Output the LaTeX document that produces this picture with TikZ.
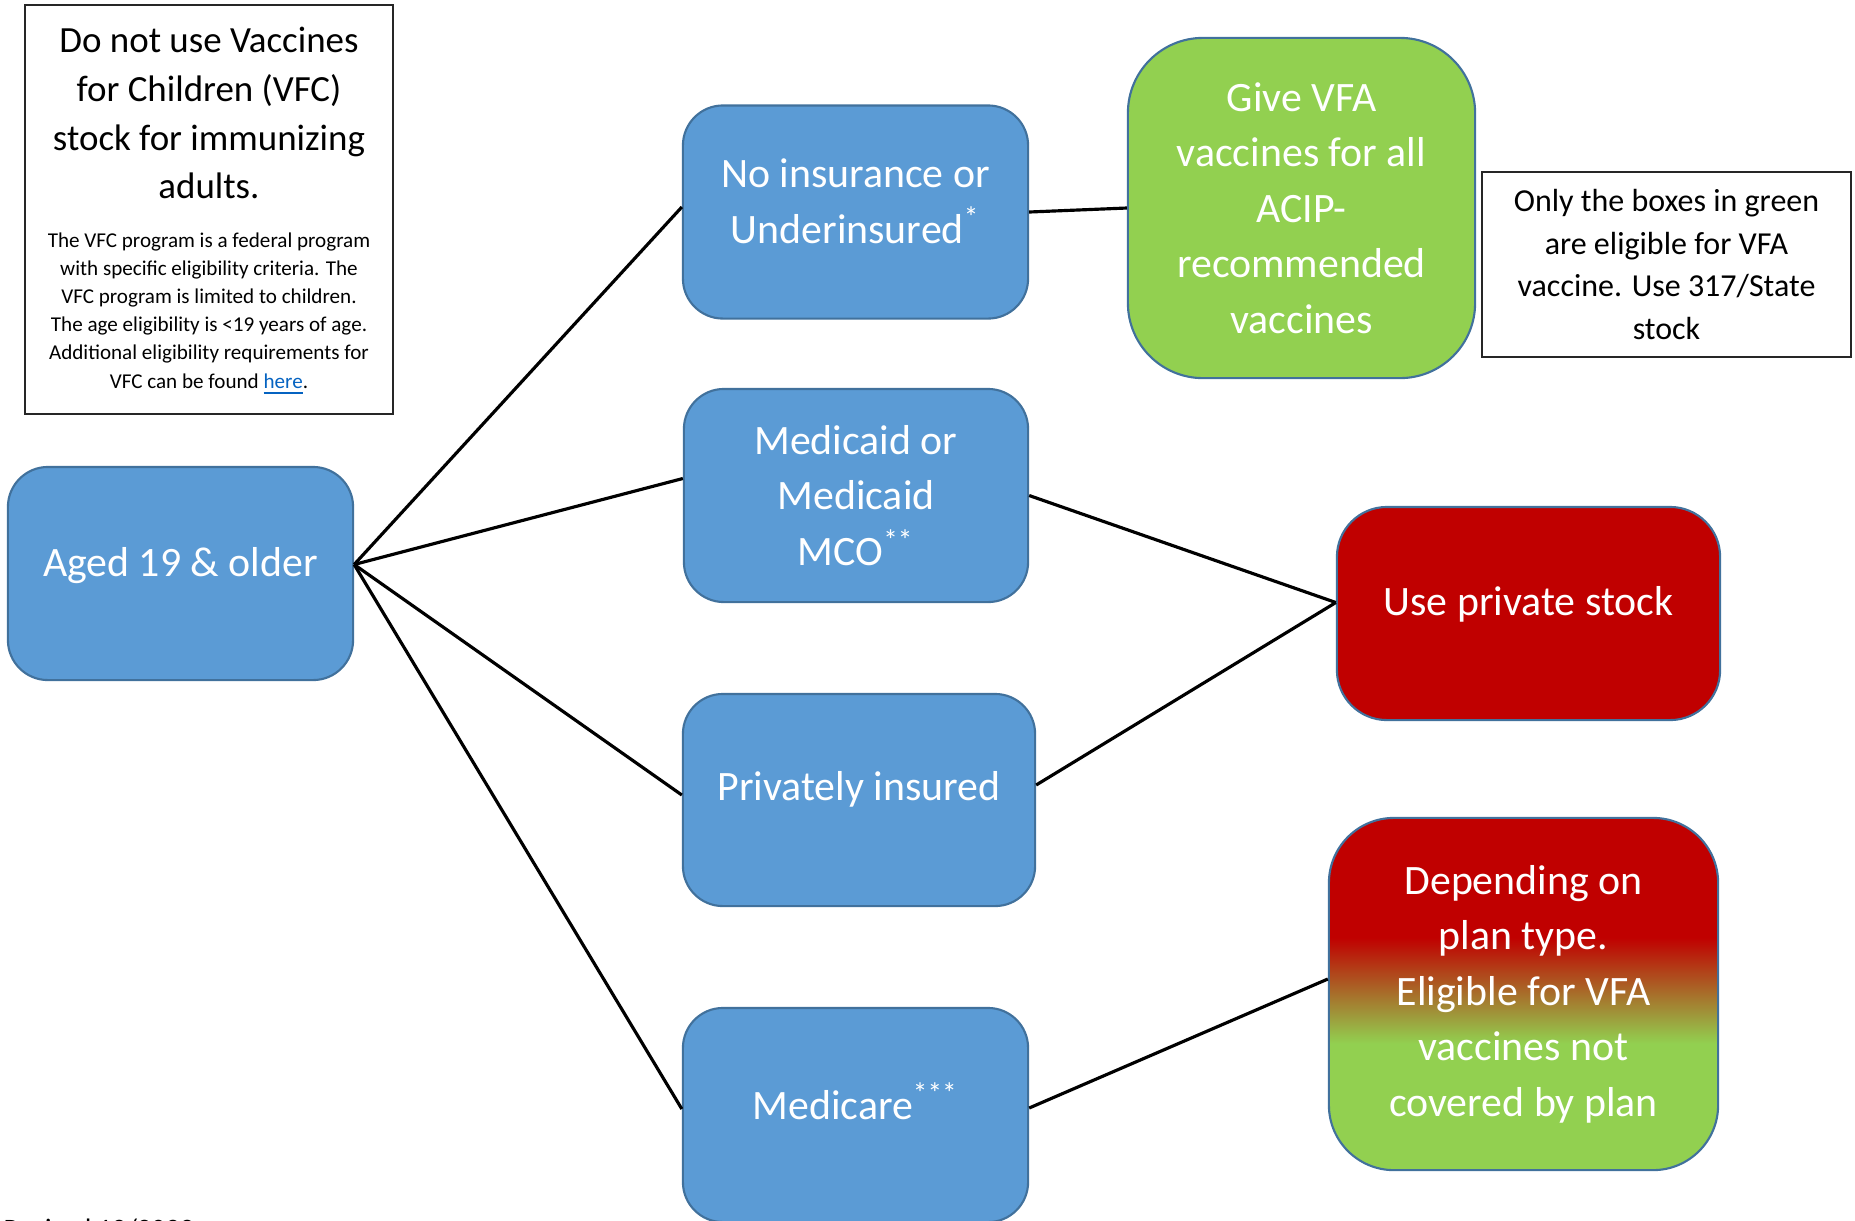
\documentclass[tikz,border=0pt]{standalone}
\usepackage{fontspec}
\setmainfont{Carlito}

\definecolor{boxblue}{HTML}{5B9BD5}
\definecolor{boxedge}{HTML}{41719C}
\definecolor{planred}{HTML}{C00000}
\definecolor{plangreen}{HTML}{92D050}
\definecolor{linkblue}{HTML}{0563C1}

\pgfdeclareverticalshading{plangrad}{100bp}{color(0bp)=(plangreen); color(43bp)=(plangreen); color(58bp)=(planred); color(100bp)=(planred)}

\newcommand{\boxfont}{\fontsize{11.9}{15.8}\selectfont}
\newcommand{\headfont}{\fontsize{10.5}{13.9}\selectfont}
\newcommand{\finefont}{\fontsize{6.0}{8.0}\selectfont}
\newcommand{\notefont}{\fontsize{9.1}{12.1}\selectfont}
\newcommand{\revfont}{\fontsize{8}{10}\selectfont}

\tikzset{
  choice/.style={draw=boxedge, line width=0.6pt, fill=boxblue, text=white, rounded corners=0.4cm,
    align=center, font=\boxfont, minimum width=3.45cm, minimum height=2.13cm},
  outcome/.style={draw=boxedge, line width=0.6pt, text=white, align=center, font=\boxfont},
  notebox/.style={draw=black!85, line width=0.5pt, align=center, text=black},
  notetext/.style={align=center, text=black, inner sep=0pt},
  lift/.style={text depth=#1},
  link/.style={line width=0.9pt, black}
}

\begin{document}
\begin{tikzpicture}[x=0.01cm, y=-0.01cm]
  %%%%% START %%%%%
  \useasboundingbox (0,0) rectangle (1855,1220);

  % notes
  \node[notebox, minimum width=3.68cm, minimum height=4.09cm] (vfcnote) at (209,209.5) {};
  \node[notetext, font=\headfont] (vfchead) at (209,113)
    {Do not use Vaccines\\for Children (VFC)\\stock for immunizing\\adults.};
  \node[notetext, font=\finefont] (vfcfine) at (209,314)
    {The VFC program is a federal program\\with specific eligibility criteria. The\\
     VFC program is limited to children.\\The age eligibility is <19 years of age.\\
     Additional eligibility requirements for\\VFC can be found \textcolor{linkblue}{\underline{here}}.};
  \node[notebox, minimum width=3.69cm, minimum height=1.85cm, font=\notefont] (greennote) at (1666.5,264.5)
    {Only the boxes in green\\are eligible for VFA\\vaccine. Use 317/State\\stock};

  % start and insurance types
  \node[choice, lift=0.23cm] (aged) at (180.5,573.5) {Aged 19 \& older};
  \node[choice, lift=0.22cm] (noins) at (855.5,212) {No insurance or\\Underinsured\textsuperscript{*}};
  \node[choice, minimum width=3.44cm] (medicaid) at (856,495.5) {Medicaid or\\Medicaid\\MCO\textsuperscript{**}};
  \node[choice, lift=0.28cm, minimum width=3.52cm, minimum height=2.12cm] (privins) at (859,800) {Privately insured};
  \node[choice, lift=0.28cm, minimum height=2.14cm] (medicare) at (855.5,1115) {Medicare\textsuperscript{***}};

  % outcomes
  \node[outcome, fill=plangreen, rounded corners=0.75cm, minimum width=3.47cm, minimum height=3.4cm] (givevfa) at (1301.5,208)
    {Give VFA\\vaccines for all\\ACIP-\\recommended\\vaccines};
  \node[outcome, lift=0.25cm, fill=planred, rounded corners=0.5cm, minimum width=3.83cm, minimum height=2.13cm] (privstock) at (1528.5,613.5)
    {Use private stock};
  \node[outcome, shading=plangrad, rounded corners=0.65cm, minimum width=3.89cm, minimum height=3.52cm] (plantype) at (1523.5,994)
    {Depending on\\plan type.\\Eligible for VFA\\vaccines not\\covered by plan};

  % connectors
  \coordinate (fork) at ([yshift=0.09cm]aged.east);
  \coordinate (stockin) at ([yshift=0.11cm]privstock.west);
  \draw[link] (fork) -- ([yshift=0.05cm]noins.west);
  \draw[link] (fork) -- ([yshift=0.17cm]medicaid.west);
  \draw[link] (fork) -- ([yshift=0.05cm]privins.west);
  \draw[link] (fork) -- ([yshift=0.06cm]medicare.west);
  \draw[link] (noins.east) -- (givevfa.west);
  \draw[link] (medicaid.east) -- (stockin);
  \draw[link] ([yshift=0.15cm]privins.east) -- (stockin);
  \draw[link] ([yshift=0.07cm]medicare.east) -- ([yshift=0.15cm]plantype.west);

  \begin{scope}
    \clip (0,0) rectangle (1855,1220);
    \node[anchor=base west, font=\revfont, inner sep=0pt] (revised) at (3,1238) {Revised 12/2022};
  \end{scope}
  %%%%% END %%%%%
\end{tikzpicture}
\end{document}
